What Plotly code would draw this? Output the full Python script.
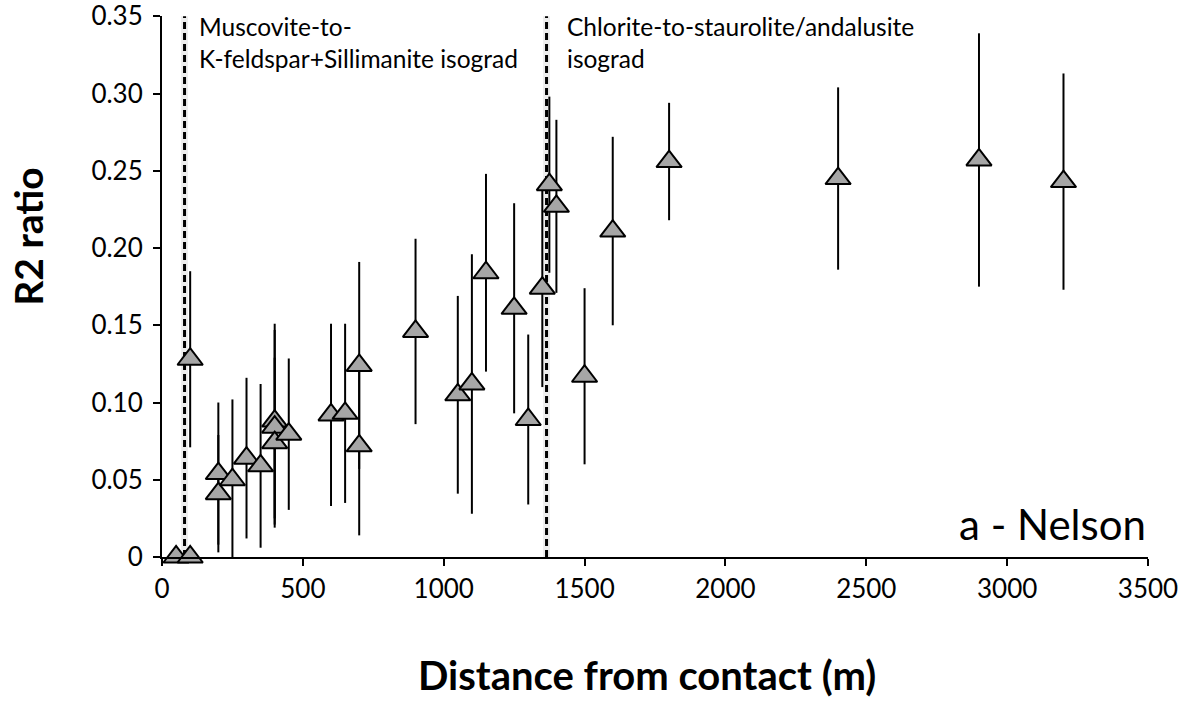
import plotly.graph_objects as go

# ---- data ----
distance_m = [50, 100, 100, 200, 200, 250, 300, 350, 400, 400, 400, 450, 600, 650,
              700, 700, 900, 1050, 1100, 1150, 1250, 1300, 1350, 1375, 1400, 1500,
              1600, 1800, 2400, 2900, 3200]
r2_ratio = [0.0, 0.0, 0.128, 0.054, 0.041, 0.050, 0.064, 0.059, 0.088, 0.084, 0.074,
            0.0795, 0.092, 0.093, 0.124, 0.072, 0.146, 0.105, 0.112, 0.184, 0.161,
            0.089, 0.174, 0.241, 0.227, 0.117, 0.211, 0.256, 0.245, 0.257, 0.243]
r2_error = [0.0, 0.0, 0.057, 0.046, 0.038, 0.052, 0.052, 0.053, 0.063, 0.063, 0.055,
            0.049, 0.059, 0.058, 0.067, 0.058, 0.060, 0.064, 0.084, 0.064, 0.068,
            0.055, 0.064, 0.057, 0.056, 0.057, 0.061, 0.038, 0.059, 0.082, 0.070]

isograd_x = [80, 1365]
isograd_labels = ["Muscovite-to-<br>K-feldspar+Sillimanite isograd",
                  "Chlorite-to-staurolite/andalusite<br>isograd"]

x_ticks = [0, 500, 1000, 1500, 2000, 2500, 3000, 3500]
y_ticks = [0, 0.05, 0.10, 0.15, 0.20, 0.25, 0.30, 0.35]
y_tick_text = ["0", "0.05", "0.10", "0.15", "0.20", "0.25", "0.30", "0.35"]
x_range = [0, 3500]
y_range = [0, 0.3502]
y_line = [0, 0.35]

FONT = "Lato"

fig = go.Figure()

# isograd lines (soft shadow + dashed line)
for xv in isograd_x:
    fig.add_trace(go.Scatter(x=[xv, xv], y=y_line, mode="lines",
                             line=dict(color="rgba(0,0,0,0.07)", width=7),
                             hoverinfo="skip", showlegend=False))
    fig.add_trace(go.Scatter(x=[xv, xv], y=y_line, mode="lines",
                             line=dict(color="black", width=3, dash="7px,4px"),
                             hoverinfo="skip", showlegend=False))

fig.add_trace(go.Scatter(
    x=distance_m, y=r2_ratio, mode="markers",
    marker=dict(symbol="triangle-up", size=22, color="#a6a6a6",
                line=dict(color="black", width=2)),
    error_y=dict(type="data", array=r2_error, visible=True,
                 color="black", thickness=2, width=0),
    cliponaxis=False, showlegend=False))

fig.update_layout(
    width=1188, height=704,
    margin=dict(l=162, r=40, t=16, b=147, autoexpand=False),
    paper_bgcolor="white", plot_bgcolor="white",
    font=dict(family=FONT, color="black", size=26),
    showlegend=False,
    xaxis=dict(range=x_range, tickvals=x_ticks, showgrid=False, zeroline=False,
               showline=True, linecolor="black", linewidth=2,
               ticks="outside", ticklen=7, tickwidth=2, tickcolor="black",
               tickfont=dict(family=FONT, size=26), ticklabelstandoff=1,
               ticklabeloverflow="allow", automargin=False),
    yaxis=dict(range=y_range, tickvals=y_ticks, ticktext=y_tick_text,
               showgrid=False, zeroline=False,
               showline=True, linecolor="black", linewidth=2,
               ticks="outside", ticklen=7, tickwidth=2, tickcolor="black",
               tickfont=dict(family=FONT, size=26), ticklabelstandoff=5,
               ticklabeloverflow="allow", automargin=False),
)

# isograd text labels
for xv, lab, shift in zip(isograd_x, isograd_labels, [12, 18]):
    fig.add_annotation(x=xv, y=y_line[1], xref="x", yref="y", text=lab,
                       showarrow=False, xanchor="left", yanchor="top",
                       align="left", xshift=shift, yshift=6,
                       font=dict(family=FONT, size=24.5))

# panel label
fig.add_annotation(x=1, y=0, xref="paper", yref="paper", text="a - Nelson",
                   showarrow=False, xanchor="right", yanchor="bottom",
                   yshift=6, font=dict(family=FONT, size=42))

# axis titles
fig.add_annotation(x=0.492, y=-0.218, xref="paper", yref="paper",
                   text="<b>Distance from contact (m)</b>", showarrow=False,
                   xanchor="center", yanchor="middle",
                   font=dict(family=FONT, size=40))
fig.add_annotation(x=(28 - 162) / 986, y=0.592, xref="paper", yref="paper",
                   text="<b>R2 ratio</b>", showarrow=False, textangle=-90,
                   xanchor="center", yanchor="middle",
                   font=dict(family=FONT, size=39))

fig.write_html("out.html")
